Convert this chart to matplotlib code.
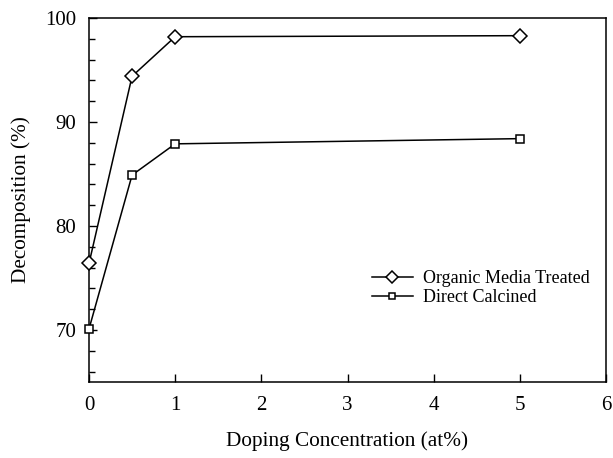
import numpy as np
import matplotlib.pyplot as plt
from matplotlib.ticker import MultipleLocator

plt.rcParams['font.family'] = ['Liberation Serif', 'DejaVu Serif']

# doping level (at%) vs decomposition (%)
doping = [0, 0.5, 1, 5]
organic = [76.4, 94.4, 98.2, 98.3]
direct = [70.1, 84.9, 87.9, 88.4]

fig = plt.figure(figsize=(6.13, 4.58), dpi=100)
ax = fig.add_axes([89/613, 1-382/458, (606-89)/613, (382-18)/458])

ax.plot(doping, organic, 'k-', marker='D', ms=7, mfc='white', mec='black',
        mew=1.1, lw=1.1, label='Organic Media Treated', clip_on=False, zorder=3)
ax.plot(doping, direct, 'k-', marker='s', ms=5.5, mfc='white', mec='black',
        mew=1.1, lw=1.1, label='Direct Calcined', clip_on=False, zorder=3)

ax.set_xlim(0, 6)
ax.set_ylim(65, 100)
ax.xaxis.set_major_locator(MultipleLocator(1))
ax.yaxis.set_major_locator(MultipleLocator(10))
ax.yaxis.set_minor_locator(MultipleLocator(2))
ax.tick_params(direction='in', labelsize=15, length=6, width=1, pad=9)
ax.tick_params(which='minor', direction='in', length=4, width=1)
ax.tick_params(axis='x', pad=10)
for s in ax.spines.values():
    s.set_linewidth(1.1)

ax.set_xlabel('Doping Concentration (at%)', fontsize=15.3, labelpad=12)
ax.set_ylabel('Decomposition (%)', fontsize=15.3, labelpad=10)

ax.legend(loc='center left', bbox_to_anchor=(0.515, 0.258), frameon=False,
          fontsize=13, handlelength=2.3, handletextpad=0.55, labelspacing=0.1,
          markerscale=0.85)

fig.savefig('out.png', dpi=100)
